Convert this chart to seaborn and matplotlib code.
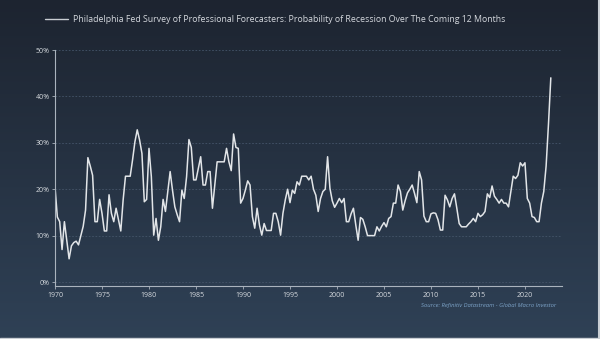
import numpy as np
import pandas as pd
import matplotlib
matplotlib.use("Agg")
import matplotlib.pyplot as plt
from matplotlib.lines import Line2D
import seaborn as sns

# ---- data (quarterly, starting 1970 Q1), values in % ----
start_year = 1970
values = [
    20.5, 14, 13, 7, 13, 9, 5, 7.8, 8.5, 8.8,
    8, 10, 12, 15.5, 26.8, 25, 23, 13, 13, 17.8,
    14.8, 11, 11, 18.8, 14.8, 13, 15.9, 13.4, 11, 17.7,
    22.8, 22.8, 22.8, 26.3, 30.2, 32.8, 30.6, 27.7, 17.3, 17.8,
    28.8, 22.7, 10.1, 13.7, 9, 11.9, 17.8, 15.2, 19.5, 23.8,
    19.8, 16.2, 14.5, 13, 19.8, 18, 22.7, 30.7, 29, 22,
    22, 24.5, 27, 20.9, 20.9, 23.8, 23.8, 15.9, 21, 25.9,
    25.9, 25.9, 25.9, 28.8, 25.9, 24, 31.9, 29, 28.8, 17,
    18, 19.8, 21.8, 20.9, 14.1, 11.6, 15.9, 12.3, 10.1, 12.6,
    11.1, 11.1, 11.1, 14.8, 14.8, 13, 10.1, 14.8, 17.7, 20,
    17.1, 19.8, 19.1, 21.6, 20.9, 22.8, 22.8, 22.8, 22, 22.8,
    20, 18.7, 15.2, 18, 19.5, 20, 27, 20.2, 17.5, 16.1,
    17, 18, 17.1, 18, 13, 13, 14.7, 15.9, 12.3, 9,
    13.9, 13.5, 11.9, 10, 10, 10, 10, 11.9, 11, 12,
    12.8, 11.9, 13.7, 14.1, 17, 17, 20.9, 19.5, 15.5, 17.5,
    19.2, 20, 20.9, 19.1, 17.1, 23.8, 22, 14.2, 13, 13,
    14.7, 14.9, 14.8, 13.4, 11.2, 11.2, 18.7, 17.7, 16.2, 18,
    19, 15.9, 12.6, 11.9, 11.9, 11.9, 12.5, 13, 13.7, 13,
    14.8, 14.1, 14.5, 15.2, 19, 18.2, 20.7, 18.5, 17.8, 17,
    17.8, 17, 17, 16.2, 19.5, 22.8, 22.3, 23, 25.7, 25,
    25.7, 18, 17, 14.1, 13.9, 13, 13, 17, 19.5, 25,
    34, 44,
]
dates = start_year + np.arange(len(values)) * 0.25
x_ticks = [1970, 1975, 1980, 1985, 1990, 1995, 2000, 2005, 2010, 2015, 2020]
y_ticks = [0, 10, 20, 30, 40, 50]
series_label = ("Philadelphia Fed Survey of Professional Forecasters: "
                "Probability of Recession Over The Coming 12 Months")
source_text = "Source: Refinitiv Datastream - Global Macro Investor"

df = pd.DataFrame({"date": dates, "value": values})

sns.set_theme(style="white")
plt.rcParams["font.family"] = ["Open Sans", "DejaVu Sans"]

W, H = 600, 339
fig = plt.figure(figsize=(W / 100, H / 100), dpi=100)

# gradient background
bg = fig.add_axes([0, 0, 1, 1], zorder=-10)
top = np.array([29, 36, 48]) / 255
bot = np.array([47, 65, 86]) / 255
t = np.linspace(0, 1, 256)[:, None]
grad = top[None, None, :] * (1 - t[..., None]) + bot[None, None, :] * t[..., None]
grad = np.repeat(grad, 2, axis=1)
bg.imshow(grad, aspect="auto", extent=[0, 1, 0, 1])
bg.axis("off")

ax = fig.add_axes([55 / W, 1 - 286 / H, (562 - 55) / W, (286 - 50) / H])
ax.patch.set_alpha(0)

line_color = "#e2e5e8"
sns.lineplot(data=df, x="date", y="value", ax=ax, color=line_color,
             linewidth=1.1, label=series_label, legend=False)

ax.set_xlim(1970, 2023.94)
ax.set_ylim(-0.86, 50)
ax.set_xticks(x_ticks)
ax.set_xticklabels([str(v) for v in x_ticks])
ax.set_yticks(y_ticks)
ax.set_yticklabels([f"{v}%" for v in y_ticks])
ax.set_xlabel("")
ax.set_ylabel("")

for v in y_ticks:
    ax.axhline(v, color="#45556a", lw=0.6, ls=(0, (2, 2)), zorder=0)

spine_c = "#aab3bd"
for s in ["top", "right"]:
    ax.spines[s].set_visible(False)
for s in ["left", "bottom"]:
    ax.spines[s].set_color(spine_c)
    ax.spines[s].set_linewidth(0.8)
ax.spines["left"].set_bounds(-0.86, 50)

ax.tick_params(axis="both", colors=spine_c, labelcolor="#d5d9de",
               labelsize=5.0, length=2.5, width=0.6, pad=1.5,
               left=True, bottom=True)

# legend-style title
h = Line2D([], [], color="#c9cdd2", lw=1.0)
fig.legend([h], [series_label], loc="center left",
           bbox_to_anchor=(45 / W, 1 - 20 / H), frameon=False,
           handlelength=2.6, handletextpad=0.55, fontsize=6.35,
           labelcolor="#d5d9de", borderaxespad=0, borderpad=0)

fig.text(556 / W, 1 - 305 / H, source_text, ha="right", va="center",
         fontsize=4.2, style="italic", color="#7da3c8")

# light frame at right and bottom edges
fig.add_artist(Line2D([0.9975, 0.9975], [0, 1], transform=fig.transFigure,
                      color="#c9ced4", lw=1.5))
fig.add_artist(Line2D([0, 1], [0.003, 0.003], transform=fig.transFigure,
                      color="#c9ced4", lw=1.0))

fig.savefig("out.png", dpi=100)
